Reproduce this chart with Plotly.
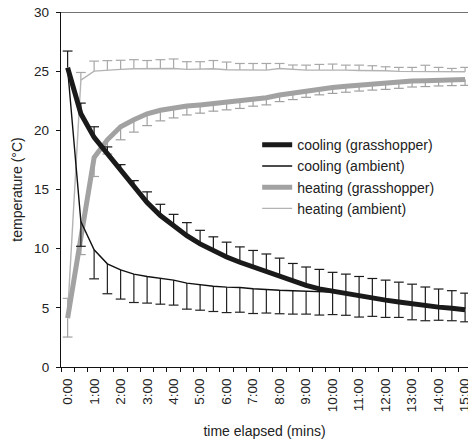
import plotly.graph_objects as go

time_labels = ["0:00", "0:30", "1:00", "1:30", "2:00", "2:30", "3:00", "3:30", "4:00", "4:30",
               "5:00", "5:30", "6:00", "6:30", "7:00", "7:30", "8:00", "8:30", "9:00", "9:30",
               "10:00", "10:30", "11:00", "11:30", "12:00", "12:30", "13:00", "13:30", "14:00",
               "14:30", "15:00"]
shown_labels = ["0:00", "1:00", "2:00", "3:00", "4:00", "5:00", "6:00", "7:00", "8:00", "9:00",
                "10:00", "11:00", "12:00", "13:00", "14:00", "15:00"]
y_ticks = [0, 5, 10, 15, 20, 25, 30]

cool_gh = [25.3, 21.4, 19.4, 18.05, 16.65, 15.2, 13.9, 12.8, 11.9, 11.1, 10.4, 9.8, 9.3, 8.85,
           8.45, 8.05, 7.65, 7.25, 6.9, 6.6, 6.4, 6.2, 5.97, 5.82, 5.65, 5.5, 5.33, 5.2, 5.06,
           4.97, 4.84]
cool_gh_err = [1.4, 0.9, 0.9, 0.55, 0.45, 0.55, 0.9, 0.95, 1.0, 1.1, 1.15, 1.2, 1.25, 1.3, 1.4,
               1.5, 1.55, 1.5, 1.55, 1.65, 1.6, 1.65, 1.68, 1.66, 1.69, 1.67, 1.67, 1.56, 1.53,
               1.48, 1.4]
cool_amb = [25.2, 12.3, 9.9, 8.72, 8.21, 7.85, 7.65, 7.51, 7.34, 7.09, 6.95, 6.83, 6.75, 6.72,
            6.61, 6.52, 6.48, 6.45, 6.42, 6.38, 6.33, 6.17, 5.94, 5.78, 5.62, 5.46, 5.3, 5.16,
            5.03, 4.93, 4.8]
cool_amb_err = [0, 2.1, 2.45, 2.53, 2.47, 2.4, 2.25, 2.2, 2.11, 2.2, 2.15, 2.14, 2.15, 2.09,
                2.09, 1.96, 1.98, 1.98, 1.95, 1.99, 1.9, 1.8, 1.72, 1.5, 1.43, 1.27, 1.31, 1.25,
                1.08, 1.02, 0.98]
heat_gh = [4.13, 11.0, 17.7, 19.2, 20.3, 20.9, 21.4, 21.7, 21.9, 22.05, 22.15, 22.27, 22.38,
           22.5, 22.64, 22.75, 22.98, 23.15, 23.34, 23.5, 23.62, 23.72, 23.82, 23.9, 23.96,
           24.05, 24.16, 24.2, 24.25, 24.28, 24.3]
heat_gh_err = [1.6, 1.5, 1.6, 1.2, 1.1, 1.05, 1.0, 0.9, 0.85, 0.75, 0.7, 0.65, 0.65, 0.65, 0.6,
               0.6, 0.55, 0.55, 0.55, 0.5, 0.5, 0.5, 0.5, 0.5, 0.5, 0.5, 0.5, 0.5, 0.5, 0.5, 0.5]
heat_amb = [4.5, 24.24, 25.0, 25.09, 25.15, 25.2, 25.2, 25.2, 25.23, 25.15, 25.15, 25.2, 25.12,
            25.09, 25.09, 25.09, 25.23, 25.15, 25.09, 25.09, 25.12, 25.09, 25.06, 25.06, 25.03,
            24.98, 24.98, 25.0, 24.98, 24.95, 24.95]
heat_amb_err = [1.3, 0.65, 0.85, 0.8, 0.77, 0.77, 0.7, 0.77, 0.8, 0.65, 0.65, 0.7, 0.65, 0.56,
                0.56, 0.56, 0.42, 0.37, 0.42, 0.48, 0.48, 0.42, 0.45, 0.4, 0.34, 0.34, 0.34, 0.5,
                0.34, 0.28, 0.37]

FONT = "Liberation Sans, Arial, sans-serif"
zeros = [0] * len(time_labels)

series = [
    # name, values, errors, direction, line colour, line width, err colour, rank
    ("heating (ambient)", heat_amb, heat_amb_err, "up", "#b3b3b3", 1.4, "#a8a8a8", 4),
    ("heating (grasshopper)", heat_gh, heat_gh_err, "down", "#a2a2a2", 5, "#a0a0a0", 3),
    ("cooling (ambient)", cool_amb, cool_amb_err, "down", "#111111", 1.4, "#222222", 2),
    ("cooling (grasshopper)", cool_gh, cool_gh_err, "up", "#1a1a1a", 5, "#1a1a1a", 1),
]

fig = go.Figure()
for name, vals, errs, direction, col, lw, ecol, rank in series:
    if direction == "up":
        err = dict(type="data", symmetric=False, array=errs, arrayminus=zeros,
                   color=ecol, thickness=1.2, width=0)
        cap_y = [v + e if e > 0 else None for v, e in zip(vals, errs)]
    else:
        err = dict(type="data", symmetric=False, array=zeros, arrayminus=errs,
                   color=ecol, thickness=1.2, width=0)
        cap_y = [v - e if e > 0 else None for v, e in zip(vals, errs)]
    fig.add_trace(go.Scatter(
        x=time_labels, y=cap_y, mode="markers", showlegend=False, hoverinfo="skip",
        marker=dict(symbol="line-ew", size=7, line=dict(color=ecol, width=1.2)),
    ))
    fig.add_trace(go.Scatter(
        x=time_labels, y=vals, mode="lines", name=name, legendrank=rank,
        legendgroup=name, line=dict(color=col, width=lw), error_y=err,
    ))

fig.update_layout(
    width=468, height=439,
    margin=dict(l=61, r=0, t=12, b=72),
    plot_bgcolor="white", paper_bgcolor="white",
    font=dict(family=FONT, size=14, color="#222222"),
    showlegend=True,
    legend=dict(x=0.482, y=0.67, xanchor="left", yanchor="top",
                bgcolor="rgba(0,0,0,0)", font=dict(size=14, color="#222222"),
                traceorder="grouped", tracegroupgap=0),
    shapes=[dict(type="line", xref="paper", yref="y", x0=0, x1=1, y0=30, y1=30,
                 line=dict(color="#444444", width=1.3))],
)
fig.update_xaxes(
    type="category", categoryorder="array", categoryarray=time_labels,
    range=[-0.5, 30.22],
    tickmode="array", tickvals=time_labels,
    ticktext=[t if t in shown_labels else "" for t in time_labels],
    tickson="boundaries", ticks="outside", ticklen=4, tickwidth=1.2, tickcolor="#111111",
    tickangle=-90, tickfont=dict(size=13.5, color="#222222"), ticklabelstandoff=5,
    showline=True, linecolor="#111111", linewidth=1.3, showgrid=False, zeroline=False,
    title=dict(text="time elapsed (mins)", font=dict(size=14, color="#222222"), standoff=16),
    automargin=False,
)
fig.update_yaxes(
    range=[0, 30], tickmode="array", tickvals=y_ticks,
    ticks="outside", ticklen=4, tickwidth=1.2, tickcolor="#111111",
    tickfont=dict(size=13.5, color="#222222"), ticklabelstandoff=4,
    showline=True, linecolor="#111111", linewidth=1.3, showgrid=False, zeroline=False,
    title=dict(text="temperature (°C)", font=dict(size=14, color="#222222"), standoff=8),
    automargin=False,
)

fig.write_html("out.html", config={"displayModeBar": False},
               post_script="document.body.style.margin='0';document.body.style.overflow='hidden';")
